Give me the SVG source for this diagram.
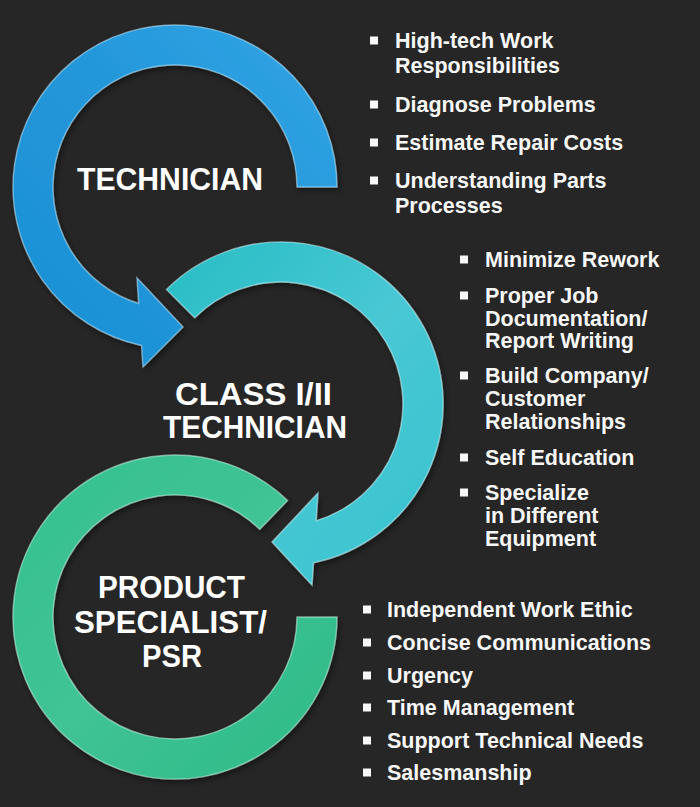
<svg xmlns="http://www.w3.org/2000/svg" width="700" height="807" viewBox="0 0 700 807">
  <defs>
    <linearGradient id="gBlue" x1="1" y1="0" x2="0" y2="1">
      <stop offset="0" stop-color="#33a5e5"/>
      <stop offset="0.5" stop-color="#2196d9"/>
      <stop offset="1" stop-color="#1d90d4"/>
    </linearGradient>
    <linearGradient id="gCyan" x1="0" y1="0" x2="1" y2="1">
      <stop offset="0" stop-color="#27bcc4"/>
      <stop offset="0.5" stop-color="#48c8d4"/>
      <stop offset="1" stop-color="#38c2cf"/>
    </linearGradient>
    <linearGradient id="gGreen" x1="0" y1="0" x2="1" y2="1">
      <stop offset="0" stop-color="#35c08f"/>
      <stop offset="0.5" stop-color="#40c395"/>
      <stop offset="1" stop-color="#2cba86"/>
    </linearGradient>
    <filter id="shadow" x="-10%" y="-10%" width="120%" height="120%">
      <feDropShadow dx="2" dy="3" stdDeviation="3" flood-color="#000000" flood-opacity="0.45"/>
    </filter>
  </defs>
  <style>
    .bg { fill: #262626; }
    .arrow { stroke-width: 1.4; stroke-opacity: 0.55; stroke-linejoin: miter; filter: url(#shadow); }
    .title { font-family: "Liberation Sans", Arial, sans-serif; font-weight: bold; font-size: 32px; fill: #ffffff; }
    .item { font-family: "Liberation Sans", Arial, sans-serif; font-weight: bold; font-size: 21.5px; fill: #f7f7f7; }
    .bullet { fill: #f7f7f7; }
  </style>
  <rect class="bg" x="0" y="0" width="700" height="807"/>

  <g id="connectors">
    <path id="arrow-technician" class="arrow" fill="url(#gBlue)" stroke="#bde9ff"
      d="M 337 187 A 162 162 0 1 0 141.6 345.5 L 143 367 L 183 327 L 137 278 L 138.7 303.5 A 122 122 0 1 1 297 187 Z"/>
    <path id="arrow-class" class="arrow" fill="url(#gCyan)" stroke="#c8f6fa"
      d="M 166.5 289.5 A 162 162 0 1 1 313.5 562.7 L 312 585 L 272 542 L 318 493 L 316.2 520.8 A 122 122 0 1 0 194.7 317.7 Z"/>
    <path id="arrow-product" class="arrow" fill="url(#gGreen)" stroke="#c4f5e2"
      d="M 337 617 A 162 162 0 1 1 287.5 500.5 L 259.8 529.2 A 122 122 0 1 0 297 617 Z"/>
  </g>

  <g id="node-technician">
    <text class="title" x="77" y="190" textLength="186" lengthAdjust="spacingAndGlyphs">TECHNICIAN</text>
  </g>
  <g id="node-class">
    <text class="title" x="175" y="405" textLength="157" lengthAdjust="spacingAndGlyphs">CLASS I/II</text>
    <text class="title" x="163" y="438" textLength="184" lengthAdjust="spacingAndGlyphs">TECHNICIAN</text>
  </g>
  <g id="node-product">
    <text class="title" x="98" y="598" textLength="147" lengthAdjust="spacingAndGlyphs">PRODUCT</text>
    <text class="title" x="74" y="633" textLength="193" lengthAdjust="spacingAndGlyphs">SPECIALIST/</text>
    <text class="title" x="142" y="667" textLength="60" lengthAdjust="spacingAndGlyphs">PSR</text>
  </g>

  <g id="list-technician">
    <rect class="bullet" x="370" y="36.5" width="8" height="8"/>
    <text class="item" x="395" y="48">High-tech Work</text>
    <text class="item" x="395" y="73">Responsibilities</text>
    <rect class="bullet" x="370" y="100.5" width="8" height="8"/>
    <text class="item" x="395" y="112">Diagnose Problems</text>
    <rect class="bullet" x="370" y="138.5" width="8" height="8"/>
    <text class="item" x="395" y="150">Estimate Repair Costs</text>
    <rect class="bullet" x="370" y="176.5" width="8" height="8"/>
    <text class="item" x="395" y="188">Understanding Parts</text>
    <text class="item" x="395" y="213">Processes</text>
  </g>

  <g id="list-class">
    <rect class="bullet" x="460" y="255.5" width="8" height="8"/>
    <text class="item" x="485" y="267">Minimize Rework</text>
    <rect class="bullet" x="460" y="291.5" width="8" height="8"/>
    <text class="item" x="485" y="303">Proper Job</text>
    <text class="item" x="485" y="325.5">Documentation/</text>
    <text class="item" x="485" y="348">Report Writing</text>
    <rect class="bullet" x="460" y="371.5" width="8" height="8"/>
    <text class="item" x="485" y="383">Build Company/</text>
    <text class="item" x="485" y="406">Customer</text>
    <text class="item" x="485" y="428.5">Relationships</text>
    <rect class="bullet" x="460" y="453.5" width="8" height="8"/>
    <text class="item" x="485" y="465">Self Education</text>
    <rect class="bullet" x="460" y="488.5" width="8" height="8"/>
    <text class="item" x="485" y="500">Specialize</text>
    <text class="item" x="485" y="523">in Different</text>
    <text class="item" x="485" y="545.5">Equipment</text>
  </g>

  <g id="list-product">
    <rect class="bullet" x="363" y="605.5" width="8" height="8"/>
    <text class="item" x="387" y="617">Independent Work Ethic</text>
    <rect class="bullet" x="363" y="638.5" width="8" height="8"/>
    <text class="item" x="387" y="650">Concise Communications</text>
    <rect class="bullet" x="363" y="671.5" width="8" height="8"/>
    <text class="item" x="387" y="683">Urgency</text>
    <rect class="bullet" x="363" y="703.5" width="8" height="8"/>
    <text class="item" x="387" y="715">Time Management</text>
    <rect class="bullet" x="363" y="736.5" width="8" height="8"/>
    <text class="item" x="387" y="748">Support Technical Needs</text>
    <rect class="bullet" x="363" y="768.5" width="8" height="8"/>
    <text class="item" x="387" y="780">Salesmanship</text>
  </g>
</svg>
